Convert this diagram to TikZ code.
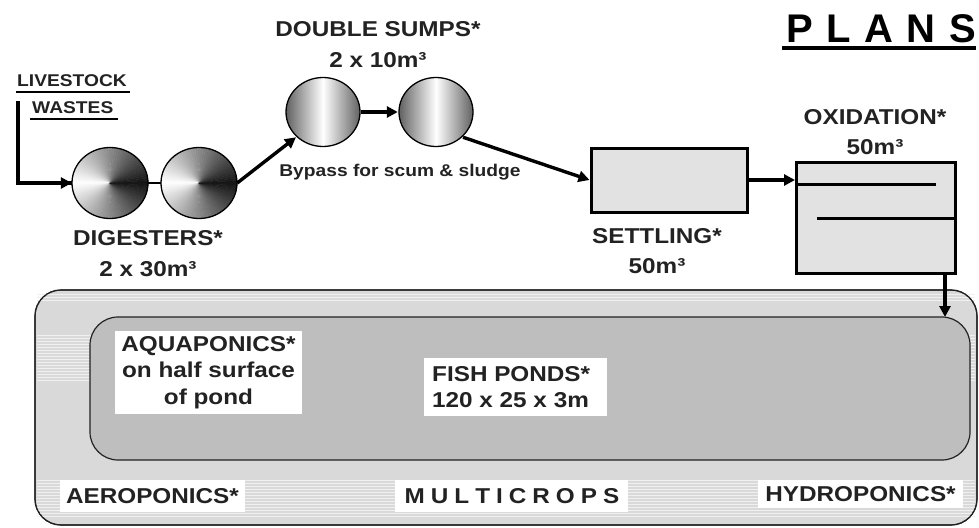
\documentclass[tikz,border=0pt]{standalone}
\usepackage{fontspec}
\setmainfont{Liberation Sans}[FakeStretch=1.13]
\newfontfamily\titlefont{Liberation Sans}
\usetikzlibrary{arrows.meta,shapes.geometric}
\definecolor{ink}{HTML}{222222}
\definecolor{boxfill}{HTML}{E2E2E2}
\definecolor{outerfill}{HTML}{D9D9D9}
\definecolor{innerfill}{HTML}{BEBEBE}
\tikzset{
  lbl/.style={font=\bfseries\fontsize{21.5}{26.5}\selectfont, text=ink, align=center, inner sep=0pt},
  tag/.style={font=\bfseries\fontsize{17}{20}\selectfont, text=ink, anchor=base west, inner sep=0pt},
  pipe/.style={line width=3.4pt, draw=black},
  flow/.style={pipe, -{Triangle[length=11pt,width=11pt]}},
  tank/.style={draw=black, line width=3pt, fill=boxfill},
  vessel/.style={ellipse, minimum width=76pt, minimum height=71pt, inner sep=0pt},
}
\begin{document}
\begin{tikzpicture}[x=1pt,y=-1pt]
\useasboundingbox (0,0) rectangle (979,527);

% multicrop area and fish pond
\draw[draw=ink, line width=1.2pt, fill=outerfill, rounded corners=26pt] (35,290) rectangle (977,525);
\foreach \yy in {294,297,300, 335,338,...,380, 480,483,...,518} {
  \draw[white!60!outerfill, line width=0.5pt] (37,\yy) -- (975,\yy);
}
\draw[draw=ink, line width=1.2pt, rounded corners=26pt] (35,290) rectangle (977,525);
\draw[draw=ink, line width=1.2pt, fill=innerfill, rounded corners=28pt] (90,317) rectangle (970,460);

% title
\node[font=\titlefont\bfseries\fontsize{40}{44}\selectfont, anchor=base east, inner sep=0pt] (title) at (976,42) {P\,\,L\,\,A\,\,N\,\,S};
\draw[line width=4pt] (782,48) -- (976,48);

% livestock input
\node[tag] (live) at (17,86) {LIVESTOCK};
\draw[line width=1.6pt] (16,92) -- (130,92);
\node[tag] (waste) at (32,113) {WASTES};
\draw[line width=1.6pt] (30,119) -- (118,119);
\coordinate (src) at (18,101);

% digesters (conical shading: light on the left, dark on the right)
\node[vessel] (d1) at (110,183) {};
\node[vessel] (d2) at (199,183) {};
\foreach \n in {d1,d2} {
  \begin{scope}[shift={(\n.center)}, x=1pt, y=1pt]
  \foreach \a in {0,4,...,356} {
    \pgfmathsetmacro{\v}{92*abs(\a+2-180)/180}
    \filldraw[black!\v!white, line width=0.4pt] (0,0) -- (\a:38 and 35.5) arc[start angle=\a, end angle=\a+4, x radius=38, y radius=35.5] -- cycle;
  }
  \draw[line width=1.3pt] (0,0) ellipse[x radius=38, y radius=35.5];
  \end{scope}
}

% sumps (vertical band shading)
\node[vessel] (s1) at (323,112) {};
\node[vessel] (s2) at (436,112) {};
\foreach \n in {s1,s2} {
  \shade[left color=black!62, right color=black!62, middle color=white] (\n.center) ellipse[x radius=37pt, y radius=34.5pt];
  \draw[line width=1.3pt] (\n.center) ellipse[x radius=37pt, y radius=34.5pt];
}

% settling and oxidation tanks
\node[tank, minimum width=156pt, minimum height=64pt, inner sep=0pt] (set) at (669,180) {};
\node[tank, minimum width=159pt, minimum height=111pt, inner sep=0pt] (ox) at (876,217.5) {};
\draw[line width=3pt] (ox.west |- 0,184) -- (936,184);
\draw[line width=3pt] (817,218) -- (ox.east |- 0,218);

% connectors
\draw[pipe] (src) |- (d1.west);
\draw[flow] (18,183) -- (d1.west);
\draw[line width=2.4pt] (d1.east) -- (d2.west);
\draw[flow] (d2.east) -- (s1.south west);
\draw[flow] (s1.east) -- (s2.west);
\draw[flow] (s2.south east) -- (set.west);
\draw[flow] (set.east) -- (ox.west |- set.east);
\coordinate (oxout) at (945,273);
\coordinate (pondtop) at (945,317);
\draw[flow] (oxout) -- (pondtop);

% labels
\node[lbl] (lsump) at (378,29) {DOUBLE SUMPS*};
\node[lbl] (lsumpv) at (378,60) {2 x 10m³};
\node[lbl, font=\bfseries\fontsize{17}{20}\selectfont] (lbyp) at (400,172) {Bypass for scum \& sludge};
\node[lbl] (ldig) at (148,238) {DIGESTERS*};
\node[lbl] (ldigv) at (148,269) {2 x 30m³};
\node[lbl] (lset) at (657,236) {SETTLING*};
\node[lbl] (lsetv) at (657,266) {50m³};
\node[lbl] (lox) at (875,117) {OXIDATION*};
\node[lbl] (loxv) at (875,147) {50m³};

% white label boxes
\fill[white] (115,331) rectangle (302,414);
\node[lbl, align=center] (aqua) at (208.5,372.5) {AQUAPONICS*\\on half surface\\of pond};
\fill[white] (424,358) rectangle (607,416);
\node[lbl, align=left, anchor=west] (fish) at (432,387) {FISH PONDS*\\120 x 25 x 3m};
\fill[white] (60,480) rectangle (245,512);
\node[lbl] (aero) at (152.5,496) {AEROPONICS*};
\fill[white] (395,480) rectangle (628,512);
\node[lbl] (multi) at (512,496) {M\hspace{6pt}U\hspace{6pt}L\hspace{6pt}T\hspace{6pt}I\hspace{6pt}C\hspace{6pt}R\hspace{6pt}O\hspace{6pt}P\hspace{6pt}S};
\fill[white] (758,480) rectangle (963,508);
\node[lbl] (hydro) at (860.5,494) {HYDROPONICS*};
\end{tikzpicture}
\end{document}
